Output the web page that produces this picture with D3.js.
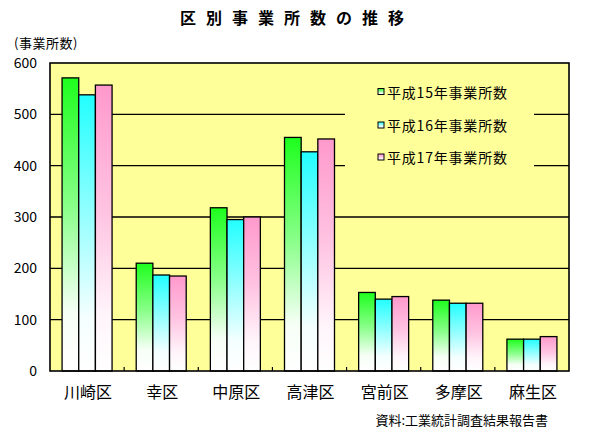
<!DOCTYPE html>
<html><head><meta charset="utf-8">
<script src="https://cdn.jsdelivr.net/npm/d3@7"></script>
<style>body{margin:0;background:#fff} svg{display:block}</style>
</head><body><svg id="c" width="598" height="442"></svg>
<script>
const categories = ["川崎区","幸区","中原区","高津区","宮前区","多摩区","麻生区"];
const seriesNames = ["平成15年事業所数","平成16年事業所数","平成17年事業所数"];
const h15 = [571,210,318,455,153,138,62];
const h16 = [538,187,295,427,140,132,62];
const h17 = [557,185,300,452,145,132,67];
const yTicks = [0,100,200,300,400,500,600];
const topColors = ["#1eff1e","#22ffff","#ff99cc"];
const midColors = ["#8cff8c","#99ffff","#ffc4e2"];
const lowColors = ["#f6fff6","#f4ffff","#fff4fa"];

const series = [h15,h16,h17];
const font = "'Noto Sans CJK JP','Noto Sans',sans-serif";
const svg = d3.select("#c");
const L=50,R=569,T=63,B=371;

const defs = svg.append("defs");
topColors.forEach((c,i)=>{
  const g = defs.append("linearGradient").attr("id","g"+i).attr("x1",0).attr("y1",0).attr("x2",0).attr("y2",1);
  g.append("stop").attr("offset","0").attr("stop-color",c);
  g.append("stop").attr("offset","0.45").attr("stop-color",midColors[i]);
  g.append("stop").attr("offset","0.8").attr("stop-color",lowColors[i]);
  g.append("stop").attr("offset","1").attr("stop-color","#ffffff");
});

const y = d3.scaleLinear().domain([0,600]).range([B,T]);
const x = d3.scaleBand().domain(categories).range([L,R]).padding(0);
const groupW = 50;
const xs = d3.scaleBand().domain(d3.range(3)).range([0,groupW]).padding(0);

// title
svg.append("text").attr("x",297).attr("y",24).attr("text-anchor","middle")
  .attr("font-family",font).attr("font-size",16).attr("font-weight","bold")
  .attr("letter-spacing","10px").text("区別事業所数の推移");
svg.append("text").attr("x",14).attr("y",48).attr("font-family",font).attr("font-size",13)
  .attr("letter-spacing","0.5px").text("(事業所数)");

// plot bg
svg.append("rect").attr("x",L).attr("y",T).attr("width",R-L).attr("height",B-T).attr("fill","#ffff99");

// gridlines
svg.append("g").selectAll("line").data(yTicks.filter(d=>d>0&&d<600)).join("line")
  .attr("x1",L).attr("x2",R).attr("y1",d=>y(d)).attr("y2",d=>y(d))
  .attr("stroke","#000").attr("stroke-width",1.4);

// legend bg
svg.append("rect").attr("x",345).attr("y",72).attr("width",189).attr("height",112).attr("fill","#ffff99");

// y axis labels
const yAxis = d3.axisLeft(y).tickValues(yTicks).tickSize(0).tickPadding(0);
const ya = svg.append("g").attr("transform","translate(37,0)").call(yAxis);
ya.select(".domain").remove();
ya.selectAll("text").attr("font-family",font).attr("font-size",14).attr("fill","#000");

// bars
const gs = svg.append("g").selectAll("g").data(categories).join("g")
  .attr("transform",d=>`translate(${x(d)+x.bandwidth()/2-groupW/2},0)`);
gs.selectAll("rect").data((d,ci)=>series.map((s,si)=>({si,v:s[ci]}))).join("rect")
  .attr("x",d=>xs(d.si)).attr("width",xs.bandwidth())
  .attr("y",d=>y(d.v)).attr("height",d=>B-y(d.v))
  .attr("fill",d=>`url(#g${d.si})`).attr("stroke","#000").attr("stroke-width",1.3);

// x ticks between categories
svg.append("g").selectAll("line").data(categories.slice(1)).join("line")
  .attr("x1",d=>x(d)).attr("x2",d=>x(d)).attr("y1",B).attr("y2",B-4)
  .attr("stroke","#000").attr("stroke-width",1.2);

// frame
svg.append("rect").attr("x",L).attr("y",T).attr("width",R-L).attr("height",B-T)
  .attr("fill","none").attr("stroke","#000").attr("stroke-width",1.6);

// x labels
const xAxis = d3.axisBottom(x).tickSize(0).tickPadding(0);
const xa = svg.append("g").attr("transform",`translate(1,${B+16})`).call(xAxis);
xa.select(".domain").remove();
xa.selectAll("text").attr("font-family",font).attr("font-size",16).attr("fill","#000");

// legend
const leg = svg.append("g").selectAll("g").data(seriesNames).join("g")
  .attr("transform",(d,i)=>`translate(378,${[91.5,125,157][i]})`);
leg.append("rect").attr("x",0).attr("y",-3).attr("width",6).attr("height",6)
  .attr("fill",(d,i)=>`url(#g${i})`).attr("stroke","#000").attr("stroke-width",1);
leg.append("text").attr("x",9).attr("y",0).attr("dominant-baseline","central")
  .attr("font-family",font).attr("font-size",14).attr("letter-spacing","0.8px").text(d=>d);

// source
svg.append("text").attr("x",548).attr("y",425).attr("text-anchor","end")
  .attr("font-family",font).attr("font-size",13).text("資料:工業統計調査結果報告書");
</script></body></html>
